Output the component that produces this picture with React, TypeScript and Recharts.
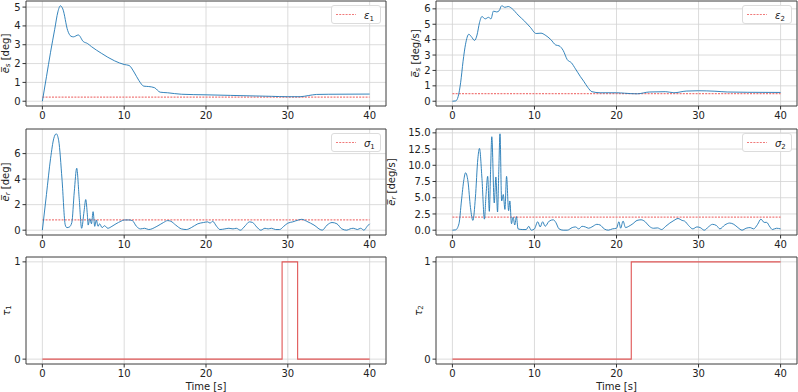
import { LineChart, Line, XAxis, YAxis, CartesianGrid, ReferenceArea } from 'recharts'

type Pt = [number, number]

const X_TICKS = [0, 10, 20, 30, 40]
const X_DOMAIN: [number, number] = [-2, 42]

// mean slip error (deg)
const esDeg: Pt[] = [
  [0, 0], [0.5, 1.3], [1, 2.6], [1.5, 3.8], [1.9, 4.75], [2.2, 5.07], [2.5, 4.9], [3.1, 3.75], [3.5, 3.45],
  [3.8, 3.42], [4.4, 3.52], [5, 3.17], [5.5, 3.07], [6, 2.9], [7.2, 2.55], [8.8, 2.15], [10, 1.95], [10.6, 1.9],
  [11.2, 1.55], [11.8, 1.1], [12.4, 0.8], [13, 0.78], [13.7, 0.72], [14.4, 0.48], [15.3, 0.45], [17, 0.37],
  [20, 0.34], [23, 0.31], [26, 0.28], [28, 0.26], [30, 0.24], [31.5, 0.24], [32.5, 0.3], [33.5, 0.36], [35, 0.37],
  [40, 0.38],
]

// mean slip error (deg/s)
const esRate: Pt[] = [
  [0, 0], [0.4, 0.02], [0.7, 0.3], [1, 1.2], [1.3, 2.6], [1.6, 3.7], [2, 4.35], [2.3, 4.2], [2.7, 3.95], [3, 4.3],
  [3.3, 5.1], [3.6, 5.5], [4, 5.35], [4.4, 5.45], [4.7, 5.35], [5, 5.85], [5.4, 5.8], [5.7, 5.88], [6, 6.2],
  [6.4, 6.1], [6.8, 6.15], [7.3, 6.0], [8, 5.6], [8.8, 5.2], [9.5, 4.8], [10.2, 4.4], [10.8, 4.42], [11.3, 4.3],
  [12, 4.0], [12.6, 3.65], [13, 3.6], [13.5, 3.3], [14, 2.7], [14.5, 2.5], [15, 2.1], [15.6, 1.6], [16, 1.3],
  [16.5, 0.9], [17, 0.62], [18, 0.55], [20, 0.55], [21, 0.52], [22.5, 0.48], [24, 0.6], [26, 0.62], [27, 0.55],
  [28.5, 0.66], [30, 0.68], [32, 0.65], [33.5, 0.6], [36, 0.58], [40, 0.57],
]

// mean roll error (deg)
const erDeg: Pt[] = [
  [0, 0], [0.5, 2.8], [1, 5.6], [1.4, 7.2], [1.7, 7.55], [2, 7.0], [2.4, 4.0], [2.8, 0.4], [3.0, 0.2], [3.3, 0.25],
  [3.6, 0.6], [3.9, 3.0], [4.2, 4.85], [4.5, 2.5], [4.8, 0.15], [5.1, 1.5], [5.3, 2.4], [5.5, 1.2], [5.6, 0.4],
  [5.8, 0.9], [6.0, 0.5], [6.2, 1.45], [6.4, 0.3], [6.6, 0.8], [6.8, 0.3], [7.0, 0.5], [7.3, 0.2], [7.6, 0.35],
  [8.0, 0.15], [8.5, 0.3], [9, 0.5], [9.6, 0.7], [10, 0.8], [10.6, 0.8], [11, 0.75], [11.5, 0.3], [12, 0.1],
  [12.5, 0.15], [13, 0.05], [14, 0.3], [14.8, 0.6], [15.3, 0.75], [15.7, 0.7], [16.3, 0.4], [17, 0.1], [17.6, 0.05],
  [18.2, 0.2], [19, 0.5], [19.7, 0.6], [20.2, 0.65], [20.5, 0.55], [20.8, 0.7], [21.3, 0.3], [21.7, 0.05],
  [22.3, 0.1], [22.8, 0.15], [23.3, 0.1], [23.7, 0.15], [24.2, 0], [24.8, 0.35], [25.3, 0.65], [25.7, 0.6],
  [26.2, 0.25], [26.7, 0], [27.2, 0.15], [27.6, 0.1], [28, 0.15], [28.5, 0.05], [29, 0.05], [29.5, 0.3], [30, 0.55],
  [30.6, 0.65], [31.3, 0.8], [31.7, 0.85], [32.3, 0.7], [33.2, 0.4], [34.2, 0], [34.8, 0.4], [35.4, 0.6], [36, 0.5],
  [36.6, 0.1], [37.2, 0], [37.6, 0.1], [38, 0.15], [38.5, 0.05], [38.9, 0.15], [39.3, 0], [39.7, 0.3], [40, 0.5],
]

// mean roll error (deg/s)
const erRate: Pt[] = [
  [0, 0], [0.4, 0.05], [0.8, 1.0], [1.1, 4.5], [1.4, 7.8], [1.6, 8.85], [1.9, 7.5], [2.2, 3.5], [2.5, 1.5],
  [2.8, 5.0], [3.1, 11.0], [3.3, 12.6], [3.6, 8.0], [3.9, 1.7], [4.1, 5.5], [4.3, 8.3], [4.5, 2.9], [4.65, 9.0],
  [4.8, 14.4], [5.1, 4.2], [5.3, 8.2], [5.5, 2.8], [5.65, 9.0], [5.8, 14.85], [6.0, 4.5], [6.2, 5.5], [6.4, 3.2],
  [6.6, 8.3], [6.85, 3.0], [7.0, 4.5], [7.2, 1.0], [7.4, 2.0], [7.6, 0.8], [7.8, 2.1], [8.0, 0.2], [8.5, 0.1],
  [9.0, 0.1], [9.3, 0.6], [9.6, 0], [10, 0.2], [10.4, 1.3], [10.7, 0.5], [11, 1.3], [11.3, 0.6], [11.8, 1.4],
  [12.3, 1.6], [12.6, 1.2], [13, 0.2], [13.5, 0], [14, 0], [14.6, 0.4], [15, 0.5], [15.4, 0.2], [15.8, 0.6],
  [16.2, 0.5], [16.6, 0.3], [17, 0.5], [17.6, 0.9], [18, 0.8], [18.5, 0.2], [19, 0], [19.5, 0.2], [20, 0.3],
  [20.3, 1.3], [20.5, 0.3], [20.8, 1.4], [21.1, 0.4], [21.5, 0.6], [22, 1.0], [22.5, 1.5], [23, 1.6], [23.5, 1.3],
  [24, 0.6], [24.5, 0.3], [25, 0.35], [25.5, 0.1], [26, 0.6], [26.5, 1.1], [27, 1.5], [27.5, 1.8], [28, 1.5],
  [28.3, 1.4], [28.8, 0.7], [29.3, 0.2], [29.8, 0.5], [30.2, 0.4], [30.7, 0], [31.2, 0.5], [31.7, 0.9], [32.2, 0.7],
  [32.6, 0.2], [33.2, 0.8], [33.8, 1.1], [34.3, 0.9], [34.8, 0.4], [35.3, 0], [35.8, 0.3], [36.3, 0.4], [36.7, 0.2],
  [37.2, 0.9], [37.6, 1.7], [38, 1.2], [38.3, 1.2], [38.7, 0.5], [39, 0.1], [39.5, 0.3], [40, 0.2],
]

// trigger signals
const tau1: Pt[] = [[0, 0], [29.3, 1], [31.2, 0], [40, 0]]
const tau2: Pt[] = [[0, 0], [21.8, 1], [40, 1]]

// thresholds
const EPS1 = 0.22
const EPS2 = 0.5
const SIGMA1 = 0.8
const SIGMA2 = 2.0
const THR_SPAN = [0, 40]

const BLUE = '#1f77b4'
const RED = '#e05555'
const THR_RED = '#f07a7a'
const FONT = '"DejaVu Sans", sans-serif'

function pad(vals: number[]): [number, number] {
  const lo = Math.min(...vals)
  const hi = Math.max(...vals)
  const r = hi - lo
  return [lo - 0.05 * r, hi + 0.05 * r]
}

interface Box {
  left: number
  top: number
  w: number
  h: number
  mt: number
  mr: number
  yw: number
  xh: number
}

const LEFT_COL = { left: 0, w: 392, mr: 6, yw: 26 }
const RIGHT_COL = { left: 380, w: 418, mr: 1, yw: 56 }
const ROW1 = { top: 0, h: 124, mt: 1, xh: 18 }
const ROW2 = { top: 124, h: 129, mt: 5, xh: 18 }
const ROW3 = { top: 253, h: 139, mt: 4, xh: 28 }

function MathSym({ sym, sub, italicSub, over }: { sym: string; sub: string; italicSub?: boolean; over?: boolean }) {
  return (
    <>
      <tspan fontStyle="italic">{over ? sym + '\u0305' : sym}</tspan>
      <tspan fontSize={7} dy={2.5} fontStyle={italicSub ? 'italic' : 'normal'}>{sub}</tspan>
      <tspan dy={-2.5}> </tspan>
    </>
  )
}

function Legend({ box, children }: { box: Box; children: React.ReactNode }) {
  const right = box.w - box.mr - 5
  return (
    <div
      style={{
        position: 'absolute',
        left: right - 50,
        top: box.mt + 4,
        width: 50,
        height: 19,
        boxSizing: 'border-box',
        border: '1px solid #dcdcdc',
        borderRadius: 3,
        background: 'rgba(255,255,255,0.85)',
      }}
    >
      <svg width={48} height={17} style={{ display: 'block' }}>
        <line x1={4} x2={24} y1={8.5} y2={8.5} stroke={THR_RED} strokeWidth={1.2} strokeDasharray="2 1.2" />
        <text x={32} y={12.5} fontSize={10} fontFamily={FONT} fill="#222">{children}</text>
      </svg>
    </div>
  )
}

interface PanelProps {
  box: Box
  series: Pt[]
  color: string
  step?: boolean
  thr?: number
  legend?: React.ReactNode
  yTicks: number[]
  fmt?: (v: number) => string
  ylabel: React.ReactNode
  labelX: number
  time?: boolean
}

function Panel({ box, series, color, step, thr, legend, yTicks, fmt, ylabel, labelX, time }: PanelProps) {
  const data = series.map(([t, v]) => ({ t, v }))
  const thrData = thr !== undefined ? THR_SPAN.map((t) => ({ t, v: thr })) : []
  const dom = pad(series.map((p) => p[1]))
  const tickStyle = { fontSize: 10, fill: '#222', fontFamily: FONT }
  return (
    <div style={{ position: 'absolute', left: box.left, top: box.top, width: box.w, height: box.h }}>
      <LineChart width={box.w} height={box.h} margin={{ top: box.mt, right: box.mr, left: 0, bottom: 0 }}>
        <CartesianGrid stroke="#d3d3d3" strokeWidth={0.8} />
        <XAxis
          dataKey="t"
          type="number"
          domain={X_DOMAIN}
          ticks={X_TICKS}
          allowDataOverflow
          interval={0}
          height={box.xh}
          axisLine={false}
          tickSize={3.5}
          tickLine={{ stroke: '#333' }}
          tick={tickStyle}
          label={time ? { value: 'Time [s]', position: 'insideBottom', offset: 2, fontSize: 10, fill: '#222', fontFamily: FONT } : undefined}
        />
        <YAxis
          type="number"
          domain={dom}
          ticks={yTicks}
          allowDataOverflow
          interval={0}
          width={box.yw}
          axisLine={false}
          tickSize={3.5}
          tickLine={{ stroke: '#333' }}
          tick={tickStyle}
          tickFormatter={fmt ?? ((v: number) => String(v))}
          label={{
            content: (p: any) => {
              const vb = p.viewBox ?? { y: 0, height: 0 }
              const cy = vb.y + vb.height / 2
              return (
                <text
                  transform={`translate(${labelX},${cy}) rotate(-90)`}
                  textAnchor="middle"
                  dominantBaseline="central"
                  fontSize={10}
                  fontFamily={FONT}
                  fill="#222"
                >
                  {ylabel}
                </text>
              )
            },
          }}
        />
        <ReferenceArea x1={X_DOMAIN[0]} x2={X_DOMAIN[1]} y1={dom[0]} y2={dom[1]} fill="none" stroke="#3a3a3a" strokeWidth={0.9} ifOverflow="visible" />
        {thr !== undefined && (
          <Line
            data={thrData}
            dataKey="v"
            type="linear"
            stroke={THR_RED}
            strokeWidth={1.2}
            strokeDasharray="2 1.2"
            dot={false}
            isAnimationActive={false}
          />
        )}
        <Line
          data={data}
          dataKey="v"
          type={step ? 'stepAfter' : 'monotone'}
          stroke={color}
          strokeWidth={step ? 1.1 : 0.9}
          dot={false}
          isAnimationActive={false}
        />
      </LineChart>
      {legend !== undefined && <Legend box={box}>{legend}</Legend>}
    </div>
  )
}

export default function App() {
  const b = (col: typeof LEFT_COL, row: typeof ROW1): Box => ({ ...col, ...row })
  return (
    <div style={{ position: 'absolute', left: 0, top: 0, width: 798, height: 392, background: '#fff', fontFamily: FONT }}>
      <Panel
        box={b(LEFT_COL, ROW1)}
        series={esDeg}
        color={BLUE}
        thr={EPS1}
        legend={<MathSym sym="ε" sub="1" />}
        yTicks={[0, 1, 2, 3, 4, 5]}
        ylabel={<><MathSym sym="e" sub="s" italicSub over />[deg]</>}
        labelX={5}
      />
      <Panel
        box={b(RIGHT_COL, ROW1)}
        series={esRate}
        color={BLUE}
        thr={EPS2}
        legend={<MathSym sym="ε" sub="2" />}
        yTicks={[0, 1, 2, 3, 4, 5, 6]}
        ylabel={<><MathSym sym="e" sub="s" italicSub over />[deg/s]</>}
        labelX={35}
      />
      <Panel
        box={b(LEFT_COL, ROW2)}
        series={erDeg}
        color={BLUE}
        thr={SIGMA1}
        legend={<MathSym sym="σ" sub="1" />}
        yTicks={[0, 2, 4, 6]}
        ylabel={<><MathSym sym="e" sub="r" italicSub over />[deg]</>}
        labelX={5}
      />
      <Panel
        box={b(RIGHT_COL, ROW2)}
        series={erRate}
        color={BLUE}
        thr={SIGMA2}
        legend={<MathSym sym="σ" sub="2" />}
        yTicks={[0, 2.5, 5, 7.5, 10, 12.5, 15]}
        fmt={(v) => v.toFixed(1)}
        ylabel={<><MathSym sym="e" sub="r" italicSub over />[deg/s]</>}
        labelX={11}
      />
      <Panel
        box={b(LEFT_COL, ROW3)}
        series={tau1}
        color={RED}
        step
        yTicks={[0, 1]}
        ylabel={<MathSym sym="τ" sub="1" />}
        labelX={6}
        time
      />
      <Panel
        box={b(RIGHT_COL, ROW3)}
        series={tau2}
        color={RED}
        step
        yTicks={[0, 1]}
        ylabel={<MathSym sym="τ" sub="2" />}
        labelX={38}
        time
      />
    </div>
  )
}
